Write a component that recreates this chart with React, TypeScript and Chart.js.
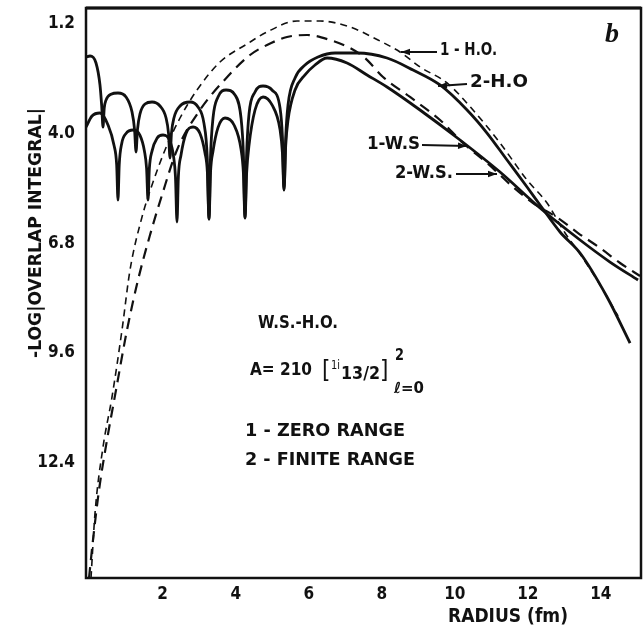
import React, { useEffect, useRef } from "react";
import { Chart, registerables } from "chart.js";

Chart.register(...registerables);

// ---- axis ticks ----
const xTicks = [2, 4, 6, 8, 10, 12, 14];
const yTicks = [1.2, 4.0, 6.8, 9.6, 12.4];

// ---- series: 2-H.O. (solid, upper oscillating branch, steep right tail) ----
const ho2X = [-0.1, 0.01, 0.174, 0.283, 0.33, 0.366, 0.4, 0.448, 0.585, 0.776, 0.996, 1.16, 1.23, 1.27, 1.31, 1.379, 1.516, 1.708, 1.927, 2.091, 2.16, 2.201, 2.24, 2.31, 2.475, 2.749, 2.968, 3.132, 3.22, 3.269, 3.31, 3.379, 3.515, 3.735, 3.981, 4.145, 4.21, 4.255, 4.3, 4.365, 4.529, 4.748, 4.995, 5.214, 5.28, 5.323, 5.37, 5.433, 5.625, 5.898, 6.254, 6.72, 7.323, 8.144, 8.857, 9.596, 10.336, 10.883, 11.431, 11.979, 12.335, 12.883, 13.431, 14.17, 14.8];
const ho2Y = [2.05, 2.024, 2.203, 2.764, 3.3, 3.836, 3.35, 3.15, 3.0, 2.968, 3.07, 3.45, 3.9, 4.473, 3.9, 3.5, 3.25, 3.198, 3.3, 3.6, 4.0, 4.627, 4.0, 3.6, 3.3, 3.198, 3.325, 3.75, 4.6, 6.183, 4.6, 3.6, 3.07, 2.892, 3.019, 3.6, 4.5, 6.157, 4.5, 3.5, 2.943, 2.79, 2.892, 3.35, 4.1, 5.443, 4.1, 3.274, 2.586, 2.254, 2.05, 1.948, 1.948, 2.076, 2.382, 2.764, 3.402, 3.989, 4.678, 5.366, 5.825, 6.514, 7.05, 8.172, 9.346];

// ---- series: 1-W.S. (solid, lower oscillating branch, straight right tail) ----
const ws1X = [-0.1, 0.064, 0.283, 0.503, 0.667, 0.74, 0.776, 0.81, 0.88, 0.996, 1.187, 1.379, 1.5, 1.56, 1.598, 1.635, 1.708, 1.845, 2.009, 2.201, 2.3, 2.35, 2.392, 2.43, 2.502, 2.639, 2.831, 3.022, 3.159, 3.225, 3.269, 3.31, 3.379, 3.515, 3.707, 3.954, 4.145, 4.21, 4.255, 4.3, 4.365, 4.529, 4.748, 4.995, 5.214, 5.28, 5.323, 5.37, 5.433, 5.625, 5.898, 6.172, 6.501, 7.049, 7.597, 8.144, 9.048, 10.144, 11.239, 12.335, 13.431, 14.252, 15.019];
const ws1Y = [3.84, 3.555, 3.479, 3.785, 4.3, 4.8, 5.698, 4.8, 4.25, 4.0, 3.912, 4.05, 4.45, 4.9, 5.698, 4.9, 4.45, 4.12, 4.04, 4.2, 4.6, 5.1, 6.259, 5.1, 4.55, 4.0, 3.836, 4.0, 4.5, 5.0, 6.183, 5.0, 4.45, 3.85, 3.606, 3.785, 4.4, 5.0, 6.157, 5.0, 4.3, 3.402, 3.07, 3.274, 3.9, 4.5, 5.443, 4.3, 3.657, 2.892, 2.509, 2.254, 2.076, 2.203, 2.509, 2.815, 3.402, 4.167, 4.984, 5.902, 6.718, 7.28, 7.739];

// ---- series: 1-H.O. (thin dashed, upper arc) ----
const ho1X = [0.037, 0.147, 0.366, 0.612, 0.886, 1.105, 1.434, 1.708, 2.064, 2.475, 2.94, 3.57, 4.31, 4.858, 5.679, 6.309, 7.131, 7.898, 8.5, 9.048, 9.788, 10.5, 11.239, 11.979, 12.527, 13.02, 13.431, 13.979, 14.471];
const ho1Y = [15.34, 13.683, 12.0, 10.723, 9.014, 7.484, 6.132, 5.315, 4.422, 3.606, 2.892, 2.178, 1.718, 1.412, 1.132, 1.132, 1.285, 1.616, 1.922, 2.305, 2.713, 3.402, 4.244, 5.188, 5.774, 6.54, 7.075, 7.866, 8.657];

// ---- series: 2-W.S. (dashed, lower arc) ----
const ws2X = [-0.018, 0.092, 0.256, 0.475, 0.722, 1.023, 1.324, 1.653, 1.982, 2.392, 3.022, 3.844, 4.392, 4.858, 5.405, 5.953, 6.583, 7.131, 7.542, 8.035, 8.774, 9.596, 10.226, 10.883, 11.596, 12.143, 12.828, 13.376, 13.979, 14.526, 15.074];
const ws2Y = [15.34, 14.37, 13.1, 11.82, 10.545, 9.014, 7.739, 6.591, 5.57, 4.422, 3.402, 2.484, 1.999, 1.744, 1.54, 1.489, 1.616, 1.82, 2.076, 2.56, 3.07, 3.657, 4.244, 4.754, 5.366, 5.774, 6.157, 6.54, 6.922, 7.305, 7.637];

const FF = '"DejaVu Sans Condensed", "Liberation Sans Narrow", "DejaVu Sans", sans-serif';
const INK = "#111111";

const pts = (xs: number[], ys: number[]) => xs.map((x, i) => ({ x, y: ys[i] }));

function drawFit(ctx: CanvasRenderingContext2D, text: string, x: number, y: number, width: number, size: number, align: "left" | "center" = "left", weight = "bold") {
  ctx.save();
  ctx.font = `${weight} ${size}px ${FF}`;
  const w = ctx.measureText(text).width || 1;
  let sx = width / w;
  sx = Math.max(0.6, Math.min(1.4, sx));
  ctx.translate(x, y);
  ctx.scale(sx, 1);
  ctx.textBaseline = "middle";
  ctx.textAlign = align;
  ctx.fillStyle = INK;
  ctx.fillText(text, 0, 0);
  ctx.restore();
}

function arrow(ctx: CanvasRenderingContext2D, x1: number, y1: number, x2: number, y2: number) {
  ctx.save();
  ctx.strokeStyle = INK;
  ctx.fillStyle = INK;
  ctx.lineWidth = 2;
  ctx.beginPath();
  ctx.moveTo(x1, y1);
  ctx.lineTo(x2, y2);
  ctx.stroke();
  const a = Math.atan2(y2 - y1, x2 - x1);
  const L = 9, W = 3.2;
  ctx.beginPath();
  ctx.moveTo(x2, y2);
  ctx.lineTo(x2 - L * Math.cos(a) + W * Math.sin(a), y2 - L * Math.sin(a) - W * Math.cos(a));
  ctx.lineTo(x2 - L * Math.cos(a) - W * Math.sin(a), y2 - L * Math.sin(a) + W * Math.cos(a));
  ctx.closePath();
  ctx.fill();
  ctx.restore();
}

const decor = {
  id: "decor",
  afterDraw(chart: any) {
    const ctx: CanvasRenderingContext2D = chart.ctx;
    const a = chart.chartArea;
    ctx.save();
    // frame
    ctx.strokeStyle = INK;
    ctx.lineWidth = 2.5;
    ctx.strokeRect(a.left, a.top, a.right - a.left, a.bottom - a.top);
    ctx.lineWidth = 3;
    ctx.beginPath();
    ctx.moveTo(a.left, a.top);
    ctx.lineTo(a.right, a.top);
    ctx.stroke();

    // panel letter
    ctx.font = `bold italic 28px "Liberation Serif", "DejaVu Serif", serif`;
    ctx.fillStyle = INK;
    ctx.textAlign = "center";
    ctx.textBaseline = "middle";
    ctx.fillText("b", 612, 35);

    // curve labels
    drawFit(ctx, "1 - H.O.", 440, 51, 57, 17);
    arrow(ctx, 437, 52, 401, 52);
    drawFit(ctx, "2-H.O", 470, 83, 58, 17);
    arrow(ctx, 467, 84, 438, 86);
    drawFit(ctx, "1-W.S", 367, 145, 53, 17);
    arrow(ctx, 422, 145, 467, 146);
    drawFit(ctx, "2-W.S.", 395, 174, 58, 17);
    arrow(ctx, 456, 174, 497, 174);

    // inset text
    drawFit(ctx, "W.S.-H.O.", 258, 324, 80, 17);
    drawFit(ctx, "A= 210", 250, 370, 62, 18);
    ctx.font = `24px ${FF}`;
    ctx.textAlign = "left";
    ctx.fillText("[", 322, 372);
    ctx.fillText("]", 380, 372);
    drawFit(ctx, "1i", 331, 366, 9, 12, "left", "normal");
    drawFit(ctx, "13/2", 341, 375, 39, 17, "left", "bold");
    drawFit(ctx, "2", 395, 356, 9, 15, "left");
    drawFit(ctx, "ℓ=0", 394, 389, 30, 15, "left", "bold");
    drawFit(ctx, "1 - ZERO RANGE", 245, 431, 160, 18, "left", "bold");
    drawFit(ctx, "2 - FINITE RANGE", 245, 460, 170, 18, "left", "bold");

    // axis titles
    drawFit(ctx, "RADIUS (fm)", 448, 617, 120, 19, "left", "bold");
    ctx.save();
    ctx.translate(37, 233);
    ctx.rotate(-Math.PI / 2);
    drawFit(ctx, "-LOG|OVERLAP INTEGRAL|", 0, 0, 250, 17, "center", "bold");
    ctx.restore();
    ctx.restore();
  },
};

export default function App() {
  const ref = useRef<HTMLCanvasElement | null>(null);
  useEffect(() => {
    if (!ref.current) return;
    const solid = { borderColor: INK, borderWidth: 2.8, pointRadius: 0, cubicInterpolationMode: "monotone" as const, fill: false };
    const chart = new Chart(ref.current, {
      type: "line",
      data: {
        datasets: [
          { label: "2-H.O.", data: pts(ho2X, ho2Y), ...solid },
          { label: "1-W.S.", data: pts(ws1X, ws1Y), ...solid },
          { label: "1-H.O.", data: pts(ho1X, ho1Y), ...solid, borderWidth: 1.6, borderDash: [7, 5] },
          { label: "2-W.S.", data: pts(ws2X, ws2Y), ...solid, borderWidth: 2.2, borderDash: [11, 7] },
        ],
      },
      options: {
        responsive: false,
        animation: false,
        layout: { padding: { left: 0, top: 8, right: 2, bottom: 0 } },
        plugins: { legend: { display: false }, tooltip: { enabled: false }, title: { display: false } },
        scales: {
          x: {
            type: "linear",
            min: -0.1,
            max: 15.1,
            grid: { display: false, drawTicks: false },
            border: { display: false },
            afterBuildTicks: (s: any) => { s.ticks = xTicks.map((v) => ({ value: v })); },
            afterFit: (s: any) => { s.height = 50; s.paddingLeft = 0; s.paddingRight = 0; },
            ticks: { color: INK, padding: 6, autoSkip: false, maxRotation: 0, font: { family: FF, size: 17, weight: "bold" }, callback: (v: any) => String(v) },
          },
          y: {
            type: "linear",
            reverse: true,
            min: 0.8,
            max: 15.34,
            grid: { display: false, drawTicks: false },
            border: { display: false },
            afterBuildTicks: (s: any) => { s.ticks = yTicks.map((v) => ({ value: v })); },
            afterFit: (s: any) => { s.width = 86; s.paddingTop = 0; s.paddingBottom = 0; },
            ticks: { color: INK, padding: 11, autoSkip: false, font: { family: FF, size: 17, weight: "bold" }, callback: (v: any) => Number(v).toFixed(1) },
          },
        },
      },
      plugins: [decor],
    });
    return () => chart.destroy();
  }, []);
  return (
    <div style={{ position: "fixed", left: 0, top: 0, width: 643, height: 628, background: "#fff" }}>
      <canvas ref={ref} width={643} height={628} style={{ display: "block" }} />
    </div>
  );
}
